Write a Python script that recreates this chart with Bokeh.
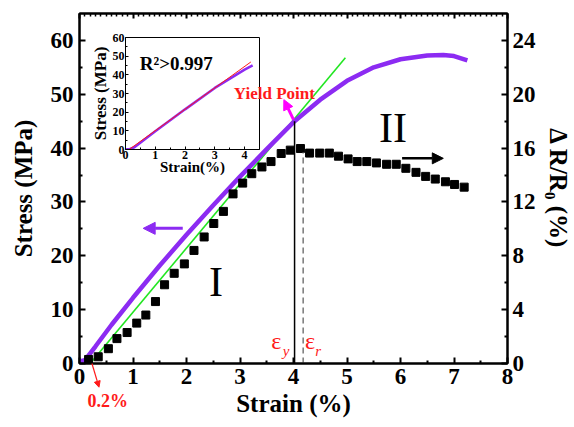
from bokeh.plotting import figure
from bokeh.models import (Range1d, LinearAxis, Arrow, NormalHead, Label, FixedTicker)
from bokeh.layouts import column
from bokeh.embed import file_html
from bokeh.resources import INLINE

FONT = "Liberation Serif"
PURPLE = "#8C2BF2"
GREEN = "#22E622"
RED = "#FF1A1A"

# ---- data ----
strain = [0, 0.1, 0.3, 0.6, 1.0, 1.5, 2.0, 2.5, 3.0, 3.5, 4.02, 4.5, 5.0, 5.5, 6.0, 6.5, 6.8, 7.0, 7.25]
stress = [0.4, 0.6, 3.2, 7.2, 12.2, 18.2, 23.9, 29.4, 34.7, 39.8, 45.0, 49.0, 52.5, 55.0, 56.5, 57.2, 57.3, 57.1, 56.3]

offset_strain = [0.2, 4.97]
offset_stress = [0.0, 56.8]

dr_strain = [0.17, 0.35, 0.54, 0.70, 0.89, 1.07, 1.24, 1.42, 1.59, 1.77, 1.96, 2.14, 2.33, 2.51,
             2.69, 2.87, 3.05, 3.22, 3.41, 3.58, 3.77, 3.94, 4.13, 4.30, 4.49, 4.67, 4.84, 5.02,
             5.19, 5.37, 5.55, 5.74, 5.92, 6.10, 6.29, 6.47, 6.65, 6.84, 7.01, 7.19]
dr_ratio = [0.3, 0.5, 1.1, 1.85, 2.3, 3.0, 3.6, 4.6, 5.85, 6.7, 7.4, 8.4, 9.4, 10.4,
            11.3, 12.6, 13.4, 14.1, 14.6, 15.0, 15.6, 15.85, 15.97, 15.63, 15.63, 15.63, 15.4, 15.2,
            15.0, 15.0, 14.9, 14.8, 14.8, 14.5, 14.2, 13.9, 13.7, 13.5, 13.3, 13.1]

yield_strain = 4.02
yield_stress = 45.0
eps_r_strain = 4.18
eps_r_top = 39.3

inset_strain = [0, 0.15, 0.3, 1.0, 2.0, 3.0, 4.0, 4.27]
inset_stress = [0, 0.3, 1.2, 9.8, 21.5, 33.0, 42.8, 45.1]
fit_strain = [0.12, 4.21]
fit_stress = [0.0, 46.9]

x_ticks = [0, 1, 2, 3, 4, 5, 6, 7, 8]
left_ticks = [0, 10, 20, 30, 40, 50, 60]
right_ticks = [0, 4, 8, 12, 16, 20, 24]

# ---- layout constants ----
W, H = 574, 427
BL, BR, BT, BB = 79, 62, 13, 64
X0, X1, Y0, Y1 = 0, 8, 0, 65

# ---- main figure ----
p = figure(width=W, height=H, x_range=Range1d(X0, X1), y_range=Range1d(Y0, Y1),
           output_backend="svg", toolbar_location=None,
           min_border_left=BL, min_border_right=BR, min_border_top=BT, min_border_bottom=BB)
p.extra_y_ranges = {"r": Range1d(0, 26)}
p.xgrid.visible = False
p.ygrid.visible = False
p.outline_line_color = "black"
p.outline_line_width = 2
p.background_fill_color = "white"
p.border_fill_color = "white"


def style_axis(ax, tick_size="23px", label_size="25px"):
    ax.axis_line_width = 2
    ax.major_tick_line_width = 2
    ax.minor_tick_line_width = 2
    ax.major_tick_in = 6
    ax.major_tick_out = 0
    ax.minor_tick_in = 3
    ax.minor_tick_out = 0
    ax.major_label_text_font = FONT
    ax.major_label_text_font_style = "bold"
    ax.major_label_text_font_size = tick_size
    ax.major_label_text_color = "black"
    ax.axis_label_text_font = FONT
    ax.axis_label_text_font_style = "bold"
    ax.axis_label_text_font_size = label_size
    ax.axis_label_text_color = "black"


xa = p.xaxis[0]
xa.ticker = FixedTicker(ticks=x_ticks, minor_ticks=[i + 0.5 for i in range(8)])
xa.axis_label = "Strain (%)"
style_axis(xa)
xa.major_label_standoff = 5
xa.axis_label_standoff = 3

ya = p.yaxis[0]
ya.ticker = FixedTicker(ticks=left_ticks, minor_ticks=[5, 15, 25, 35, 45, 55])
ya.axis_label = "Stress (MPa)"
style_axis(ya)
ya.major_label_standoff = 6
ya.axis_label_standoff = 11

ra = LinearAxis(y_range_name="r", ticker=FixedTicker(ticks=right_ticks, minor_ticks=[2, 6, 10, 14, 18, 22]),
                axis_label="\u0394 R/R\u2080 (%)")
style_axis(ra)
ra.major_label_standoff = 5
ra.axis_label_standoff = 6
p.add_layout(ra, "right")

ta = LinearAxis(ticker=FixedTicker(ticks=x_ticks, minor_ticks=[i / 10 for i in range(81) if i % 10]))
style_axis(ta)
ta.major_tick_in = 5
ta.minor_tick_in = 3
ta.minor_tick_line_width = 1.5
ta.major_label_text_font_size = "1px"
ta.major_label_text_color = None
ta.major_label_standoff = 0
p.add_layout(ta, "above")

# glyphs
p.line(offset_strain, offset_stress, line_width=1.6, color=GREEN)
p.line(strain, stress, line_width=4.5, color=PURPLE)
p.scatter(dr_strain, dr_ratio, y_range_name="r", marker="square", size=8, color="black")
p.segment(x0=[yield_strain], y0=[0], x1=[yield_strain], y1=[yield_stress], line_width=1.5, color="black")
p.segment(x0=[eps_r_strain], y0=[0], x1=[eps_r_strain], y1=[eps_r_top], line_width=1.2,
          color="#555555", line_dash="6 4")

# arrows
p.add_layout(Arrow(end=NormalHead(size=12, fill_color=PURPLE, line_color=PURPLE),
                   x_start=1.93, y_start=25.1, x_end=1.19, y_end=25.1,
                   line_color=PURPLE, line_width=3))
p.add_layout(Arrow(end=NormalHead(size=11, fill_color="black", line_color="black"),
                   x_start=6.03, y_start=38.1, x_end=6.80, y_end=38.1,
                   line_color="black", line_width=2.5))
p.add_layout(Arrow(end=NormalHead(size=10, fill_color="#FF00FF", line_color="#FF00FF"),
                   x_start=4.0, y_start=45.3, x_end=3.82, y_end=49.0,
                   line_color="#FF00FF", line_width=3))


def lab(fig, x, y, text, size, color="black", style="bold", align="center", baseline="middle"):
    fig.add_layout(Label(x=x, y=y, text=text, text_font=FONT, text_font_size=size,
                         text_font_style=style, text_color=color, text_align=align,
                         text_baseline=baseline))


lab(p, 2.55, 15.2, "I", "42px", style="normal")
lab(p, 5.86, 43.7, "II", "42px", style="normal")
lab(p, 3.68, 4.2, "\u03b5", "24px", color=RED, style="normal")
lab(p, 3.86, 2.4, "y", "15px", color=RED, style="italic")
lab(p, 4.31, 4.2, "\u03b5", "24px", color=RED, style="normal")
lab(p, 4.46, 2.4, "r", "15px", color=RED, style="italic")

# ---- inset ----
ins = figure(width=180, height=151, x_range=Range1d(0, 4.5), y_range=Range1d(0, 60),
             output_backend="svg", toolbar_location=None,
             min_border_left=40, min_border_right=6, min_border_top=7, min_border_bottom=32)
ins.xgrid.visible = False
ins.ygrid.visible = False
ins.outline_line_color = "black"
ins.outline_line_width = 1
ins.background_fill_color = "white"
ins.border_fill_color = None
ins.border_fill_alpha = 0

for ax in (ins.xaxis[0], ins.yaxis[0]):
    style_axis(ax, tick_size="12px", label_size="15px")
    ax.axis_line_width = 1
    ax.major_tick_line_width = 1
    ax.minor_tick_line_width = 1
    ax.major_tick_in = 3
    ax.minor_tick_in = 2
    ax.major_label_standoff = 1
    ax.axis_label_standoff = 0
ins.xaxis[0].ticker = FixedTicker(ticks=[0, 1, 2, 3, 4], minor_ticks=[0.5, 1.5, 2.5, 3.5])
ins.xaxis[0].axis_label = "Strain(%)"
ins.xaxis[0].axis_label_standoff = -3
ins.yaxis[0].ticker = FixedTicker(ticks=left_ticks, minor_ticks=[5, 15, 25, 35, 45, 55])
ins.yaxis[0].axis_label = "Stress (MPa)"
ins.yaxis[0].axis_label_text_font_size = "17px"

ins.line(inset_strain, inset_stress, line_width=2.5, color=PURPLE)
ins.line(fit_strain, fit_stress, line_width=1, color=RED)
ins.add_layout(Label(x=0.48, y=46, text="R\u00b2>0.997", text_font=FONT, text_font_size="19px",
                     text_font_style="bold", text_color="black", text_baseline="middle"))

# ---- transparent overlay sharing the main data scale, spanning the whole canvas ----
sx = (X1 - X0) / (W - BL - BR)
sy = (Y1 - Y0) / (H - BT - BB)
top = figure(width=W, height=H,
             x_range=Range1d(X0 - BL * sx, X1 + BR * sx),
             y_range=Range1d(Y0 - BB * sy, Y1 + BT * sy),
             output_backend="svg", toolbar_location=None,
             x_axis_location=None, y_axis_location=None,
             min_border_left=0, min_border_right=0, min_border_top=0, min_border_bottom=0)
top.xgrid.visible = False
top.ygrid.visible = False
top.outline_line_color = None
top.background_fill_color = None
top.background_fill_alpha = 0
top.border_fill_color = None
top.border_fill_alpha = 0

lab(top, 3.6, 50.2, "Yield Point", "17px", color=RED)
lab(top, 0.52, -6.9, "0.2%", "18px", color=RED)
top.add_layout(Arrow(end=NormalHead(size=6, fill_color=RED, line_color=RED),
                     x_start=0.23, y_start=0.0, x_end=0.36, y_end=-4.4,
                     line_color=RED, line_width=1.2))

for fig in (p, ins, top):
    try:
        fig.frame_align = False
    except Exception:
        pass

ins.styles = {"position": "absolute", "left": "85px", "top": "30px", "z-index": "10",
              "width": "180px", "height": "151px"}
top.styles = {"position": "absolute", "left": "0px", "top": "0px", "z-index": "20",
              "width": "574px", "height": "427px"}

layout = column(p, ins, top)
layout.styles = {"position": "relative"}

open("out.html", "w").write(file_html(layout, INLINE))
